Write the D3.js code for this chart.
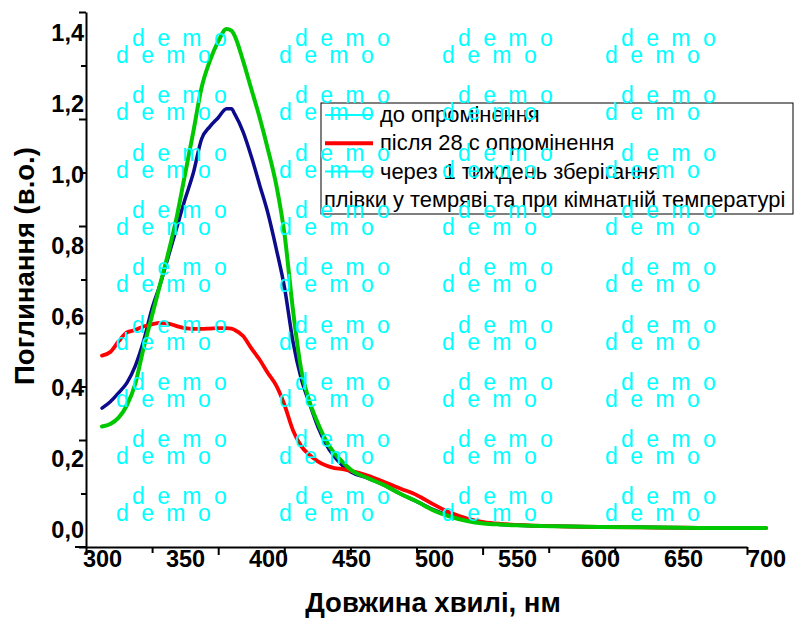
<!DOCTYPE html>
<html><head><meta charset="utf-8">
<script src="https://cdn.jsdelivr.net/npm/d3@7"></script>
<style>
html,body{margin:0;padding:0;background:#fff;}
svg{display:block;font-family:"Liberation Sans",Arial,sans-serif;}
</style>
</head><body>
<svg id="chart" width="807" height="618"></svg>
<script>
// ---- data ----
const wavelengths = [300,305,310,315,320,325,330,335,340,345,350,355,360,365,370,375,378,380,385,390,395,400,405,410,415,420,425,430,435,440,445,450,460,470,480,490,500,510,520,530,540,550,575,600,625,650,675,700];
const before = [0.342,0.36,0.385,0.413,0.46,0.53,0.62,0.69,0.77,0.85,0.93,1.004,1.10,1.135,1.16,1.185,1.185,1.17,1.12,1.05,0.97,0.89,0.79,0.68,0.53,0.425,0.355,0.29,0.24,0.205,0.18,0.162,0.145,0.125,0.10,0.078,0.055,0.037,0.025,0.018,0.014,0.012,0.009,0.007,0.006,0.005,0.004,0.004];
const after28s = [0.49,0.50,0.53,0.555,0.562,0.572,0.578,0.582,0.58,0.573,0.567,0.565,0.565,0.566,0.567,0.567,0.566,0.562,0.545,0.51,0.478,0.44,0.405,0.35,0.28,0.235,0.21,0.192,0.18,0.173,0.17,0.165,0.152,0.134,0.115,0.096,0.07,0.047,0.031,0.021,0.016,0.013,0.009,0.007,0.006,0.005,0.004,0.004];
const afterWeek = [0.29,0.297,0.315,0.35,0.41,0.51,0.60,0.69,0.78,0.88,1.00,1.12,1.245,1.32,1.375,1.41,1.405,1.39,1.32,1.24,1.16,1.07,0.97,0.83,0.62,0.45,0.36,0.30,0.25,0.215,0.19,0.168,0.145,0.125,0.10,0.078,0.053,0.036,0.024,0.017,0.014,0.012,0.009,0.007,0.006,0.005,0.004,0.004];
const seriesNames = ["до опромінення","після 28 с опромінення","через 1 тиждень зберігання"];
const legendExtra = "плівки у темряві та при кімнатній температурі";
const xTickValues = [300,350,400,450,500,550,600,650,700];
const yTickValues = [0,0.2,0.4,0.6,0.8,1.0,1.2,1.4];
const xTitle = "Довжина хвилі, нм";
const yTitle = "Поглинання (в.о.)";

// ---- drawing ----
const svg = d3.select("#chart");
const x = d3.scaleLinear().domain([300,700]).range([102,766]);
const y = d3.scaleLinear().domain([0,1.4]).range([529.5,32.5]);
// frame scales (tick marks of the original frame)
const fx = d3.scaleLinear().domain([0,10]).range([86,747]);
const fy = d3.scaleLinear().domain([0,10]).range([547,12]);

const frame = svg.append("g");
function styleAxis(g){ g.selectAll("path,line").attr("stroke","#000").attr("stroke-width",2); g.selectAll("text").remove(); }
frame.append("g").attr("transform","translate(0,547)")
  .call(d3.axisBottom(fx).tickValues(d3.range(0,11,2)).tickSize(8).tickSizeOuter(0).tickFormat(""))
  .call(styleAxis);
frame.append("g").attr("transform","translate(0,547)")
  .call(d3.axisBottom(fx).tickValues(d3.range(1,11,2)).tickSize(6).tickSizeOuter(0).tickFormat(""))
  .call(styleAxis).call(g=>g.select(".domain").remove());
frame.append("line").attr("x1",75).attr("x2",86).attr("y1",547).attr("y2",547).attr("stroke","#000").attr("stroke-width",2);
frame.append("g").attr("transform","translate(86,0)")
  .call(d3.axisLeft(fy).tickValues(d3.range(0,11,2)).tickSize(7).tickSizeOuter(0).tickFormat(""))
  .call(styleAxis);
frame.append("g").attr("transform","translate(86,0)")
  .call(d3.axisLeft(fy).tickValues(d3.range(1,11,2)).tickSize(5).tickSizeOuter(0).tickFormat(""))
  .call(styleAxis).call(g=>g.select(".domain").remove());

// tick labels
const fmt = d => d.toFixed(1).replace(".", ",");
const xl = svg.append("g").attr("transform","translate(0,550)")
  .call(d3.axisBottom(x).tickValues(xTickValues).tickSize(0).tickPadding(0).tickFormat(d3.format("d")));
xl.select(".domain").remove();
xl.selectAll("text").attr("font-size",23.5).attr("font-weight","bold").attr("fill","#000").attr("font-family","Liberation Sans, Arial, sans-serif");
const yl = svg.append("g").attr("transform","translate(84,0)")
  .call(d3.axisLeft(y).tickValues(yTickValues).tickSize(0).tickPadding(0).tickFormat(fmt));
yl.select(".domain").remove();
yl.selectAll("text").attr("font-size",23.5).attr("font-weight","bold").attr("fill","#000").attr("font-family","Liberation Sans, Arial, sans-serif");

// titles
svg.append("text").attr("x",433).attr("y",612).attr("text-anchor","middle")
  .attr("font-size",27.5).attr("font-weight","bold").text(xTitle);
svg.append("text").attr("transform","translate(34,266) rotate(-90)").attr("text-anchor","middle")
  .attr("font-size",27.5).attr("font-weight","bold").text(yTitle);

// curves
const line = d3.line().x((d,i)=>x(wavelengths[i])).y(d=>y(d)).curve(d3.curveMonotoneX);
const series = [
  {vals: before, color:"#0b0b8c", w:3.5},
  {vals: after28s, color:"#ff0000", w:3.8},
  {vals: afterWeek, color:"#00c800", w:4}
];
svg.append("g").selectAll("path").data(series).join("path")
  .attr("d",d=>line(d.vals)).attr("fill","none").attr("stroke",d=>d.color)
  .attr("stroke-width",d=>d.w).attr("stroke-linejoin","round").attr("stroke-linecap","round");

// legend
const lg = svg.append("g");
lg.append("rect").attr("x",321).attr("y",103).attr("width",472).attr("height",111)
  .attr("fill","#fff").attr("stroke","#000").attr("stroke-width",1);
const legendColors = ["#00ffff","#ff0000","#00ffff"];
const legendW = [2,4,2];
seriesNames.forEach((n,i)=>{
  const by = 122 + i*28.3;
  lg.append("line").attr("x1",325).attr("x2",373).attr("y1",by-7).attr("y2",by-7)
    .attr("stroke",legendColors[i]).attr("stroke-width",legendW[i]);
  lg.append("text").attr("x",380).attr("y",by).attr("font-size",21.9).attr("fill","#000").text(n);
});
lg.append("text").attr("x",324).attr("y",122+3*28.3).attr("font-size",21.9).attr("fill","#000").text(legendExtra);

// watermark
const wm = svg.append("g").attr("fill","#00ffff").attr("font-size",23).attr("letter-spacing","3px");
d3.range(9).forEach(r=>{
  d3.range(4).forEach(c=>{
    const bx = 132 + c*163, by = 46 + r*57.3;
    wm.append("text").attr("x",bx).attr("y",by).text("d e m o");
    wm.append("text").attr("x",bx-16).attr("y",by+17).text("d e m o");
  });
});
</script>
</body></html>
